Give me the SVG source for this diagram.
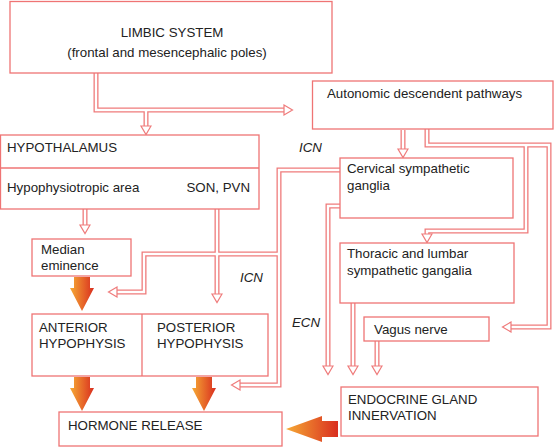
<svg xmlns="http://www.w3.org/2000/svg" width="555" height="447" viewBox="0 0 555 447">
<style>
.box{fill:#fff;stroke:#ef7474;stroke-width:1.3}
.t{font-family:"Liberation Sans",Arial,sans-serif;font-size:13.3px;fill:#222}
.i{font-style:italic}
.lo{fill:none;stroke:#ef7b7b;stroke-width:5;stroke-linejoin:miter}
.li{fill:none;stroke:#fff;stroke-width:2.4;stroke-linejoin:miter}
.big{fill:url(#og)}
</style>
<defs>
<linearGradient id="og" x1="0" y1="0" x2="1" y2="0">
<stop offset="0" stop-color="#f6aa35"/>
<stop offset="1" stop-color="#d92e1f"/>
</linearGradient>
<marker id="ah" markerUnits="userSpaceOnUse" markerWidth="14" markerHeight="14" refX="1" refY="7" orient="auto" viewBox="0 0 14 14">
<polygon points="1,2 9.5,7 1,12" fill="#fff" stroke="#ef7b7b" stroke-width="1.2"/>
</marker>
<path id="dn" d="M-8,0 H8 V11 H12 L0,34 L-12,11 H-8 Z"/>
</defs>

<g id="connectors">
<g class="lo">
<path d="M96,73 V110 H284"/>
<path d="M146,110 V126"/>
<path d="M403,130 V149"/>
<path d="M427,129 V145 H549 V327 H511"/>
<path d="M526,145 V231 H427 V234"/>
<path d="M340,170 H279 V385 H240"/>
<path d="M279,254 H144 V292 H117"/>
<path d="M340,206 H328 V366"/>
<path d="M353,303 V366"/>
<path d="M377,341 V366"/>
<path d="M85,209 V225"/>
<path d="M217,209 V294"/>
</g>
<g class="li">
<path d="M96,73 V110 H284" marker-end="url(#ah)"/>
<path d="M146,110 V126" marker-end="url(#ah)"/>
<path d="M403,130 V149" marker-end="url(#ah)"/>
<path d="M427,129 V145 H549 V327 H511" marker-end="url(#ah)"/>
<path d="M526,145 V231 H427 V234" marker-end="url(#ah)"/>
<path d="M340,170 H279 V385 H240" marker-end="url(#ah)"/>
<path d="M279,254 H144 V292 H117" marker-end="url(#ah)"/>
<path d="M340,206 H328 V366" marker-end="url(#ah)"/>
<path d="M353,303 V366" marker-end="url(#ah)"/>
<path d="M377,341 V366" marker-end="url(#ah)"/>
<path d="M85,209 V225" marker-end="url(#ah)"/>
<path d="M217,209 V294" marker-end="url(#ah)"/>
</g>
<use href="#dn" class="big" transform="translate(82,277)"/>
<use href="#dn" class="big" transform="translate(82,377)"/>
<use href="#dn" class="big" transform="translate(204,377)"/>
<path class="big" d="M0,-8 V8 H-16 V13 L-52,0 L-16,-13 V-8 Z" transform="translate(338,429)" fill="url(#og)"/>
<text class="t i" x="299" y="152">ICN</text>
<text class="t i" x="240" y="282">ICN</text>
<text class="t i" x="292" y="327">ECN</text>
</g>

<g id="limbic">
<rect class="box" x="10" y="1.5" width="322" height="71.5"/>
<text class="t" x="172" y="37" text-anchor="middle">LIMBIC SYSTEM</text>
<text class="t" x="167" y="57" text-anchor="middle">(frontal and mesencephalic poles)</text>
</g>

<g id="autonomic">
<rect class="box" x="312.5" y="81" width="240.5" height="48"/>
<text class="t" x="327" y="98">Autonomic descendent pathways</text>
</g>

<g id="hypothalamus">
<rect class="box" x="0.5" y="135" width="258.5" height="74"/>
<line x1="0.5" y1="168" x2="259" y2="168" stroke="#ef7474" stroke-width="1.3"/>
<text class="t" x="7" y="152">HYPOTHALAMUS</text>
<text class="t" x="7" y="192">Hypophysiotropic area</text>
<text class="t" x="250" y="192" text-anchor="end">SON, PVN</text>
</g>

<g id="median">
<rect class="box" x="32" y="239" width="99" height="37"/>
<text class="t" x="41" y="254">Median</text>
<text class="t" x="41" y="270">eminence</text>
</g>

<g id="hypophysis">
<rect class="box" x="32" y="314" width="236" height="62"/>
<line x1="142" y1="314" x2="142" y2="376" stroke="#ef7474" stroke-width="1.3"/>
<text class="t" x="39" y="332">ANTERIOR</text>
<text class="t" x="39" y="348">HYPOPHYSIS</text>
<text class="t" x="157" y="332">POSTERIOR</text>
<text class="t" x="157" y="348">HYPOPHYSIS</text>
</g>

<g id="hormone">
<rect class="box" x="59" y="412" width="223" height="34"/>
<text class="t" x="68" y="430">HORMONE RELEASE</text>
</g>

<g id="cervical">
<rect class="box" x="340" y="158" width="173" height="60"/>
<text class="t" x="347" y="173">Cervical sympathetic</text>
<text class="t" x="347" y="190">ganglia</text>
</g>

<g id="thoracic">
<rect class="box" x="340" y="243" width="174" height="60"/>
<text class="t" x="347" y="258">Thoracic and lumbar</text>
<text class="t" x="347" y="275">sympathetic gangalia</text>
</g>

<g id="vagus">
<rect class="box" x="364" y="317" width="125" height="24"/>
<text class="t" x="374" y="334">Vagus nerve</text>
</g>

<g id="endocrine">
<rect class="box" x="341" y="387" width="197" height="49"/>
<text class="t" x="348" y="404">ENDOCRINE GLAND</text>
<text class="t" x="348" y="420">INNERVATION</text>
</g>
</svg>
